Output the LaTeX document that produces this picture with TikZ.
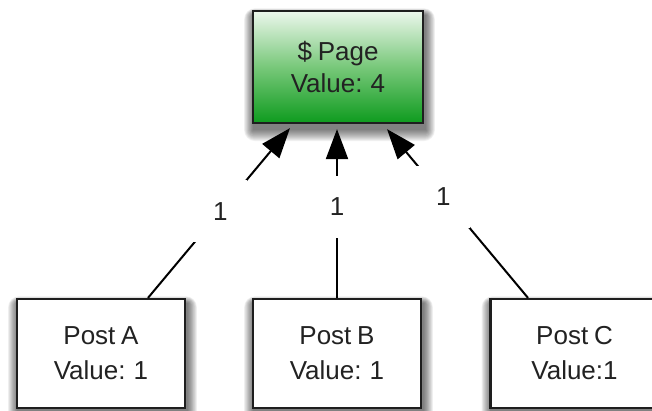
\documentclass[tikz,border=0pt]{standalone}
\usepackage{fontspec}
\setmainfont[WordSpace=0.8]{Liberation Sans}
\usetikzlibrary{arrows.meta}
\pgfdeclarelayer{background}
\pgfsetlayers{background,main}
\definecolor{edge}{HTML}{1E1E1E}
\definecolor{txt}{HTML}{222222}
\definecolor{gtop}{RGB}{236,247,236}
\definecolor{gmid}{RGB}{120,200,122}
\definecolor{gbot}{RGB}{14,155,30}
\tikzset{
  box/.style={rectangle, draw=edge, line width=2.2pt, inner sep=0pt, align=center,
    text=txt, fill=white},
  topbox/.style={box, minimum width=170pt, minimum height=112pt,
    top color=gtop, bottom color=gbot, middle color=gmid,
    font=\fontsize{26}{32}\selectfont},
  postbox/.style={box, minimum width=168pt, minimum height=109pt,
    font=\fontsize{26}{35}\selectfont},
  arr/.style={draw=black, line width=2pt, -{Triangle[length=30pt,width=22pt]}},
  lbl/.style={fill=white, inner sep=0pt, minimum width=54pt, minimum height=62pt,
    text=txt, font=\fontsize{26}{30}\selectfont},
  shadowlayer/.style={fill=black, fill opacity=0.055, rounded corners=#1}
}
\begin{document}
\begin{tikzpicture}[x=1pt,y=-1pt]
\path[use as bounding box, clip] (0,0) rectangle (652,411);
\node[topbox] (pg) at (338,67) {\$ Page\\Value: 4};
\node[postbox] (pa) at (101,353.5) {Post A\\Value: 1};
\node[postbox] (pb) at (337,353.5) {Post B\\Value: 1};
\node[postbox] (pc) at (574.5,353.5) {Post C\\Value:1};
\begin{pgfonlayer}{background}
\foreach \n in {pg,pa,pb,pc}{
  \foreach \k in {0,...,11}{
    \path[shadowlayer=\k pt] ([shift={(-0.8*\k+1,-0.6*\k+5)}]\n.north west)
      rectangle ([shift={(0.8*\k+2,\k+6)}]\n.south east);
  }
}
\end{pgfonlayer}
\draw[arr] ([xshift=47pt]pa.north) -- ([xshift=-48pt,yshift=-4pt]pg.south)
  node[lbl, pos=0.51] (la) {1};
\draw[arr] (pb.north) -- ([xshift=-1pt,yshift=-5pt]pg.south)
  node[lbl, pos=0.54] (lb) {1};
\draw[arr] ([xshift=-46.5pt]pc.north) -- ([xshift=49pt,yshift=-5pt]pg.south)
  node[lbl, pos=0.6] (lc) {1};
\end{tikzpicture}
\end{document}
